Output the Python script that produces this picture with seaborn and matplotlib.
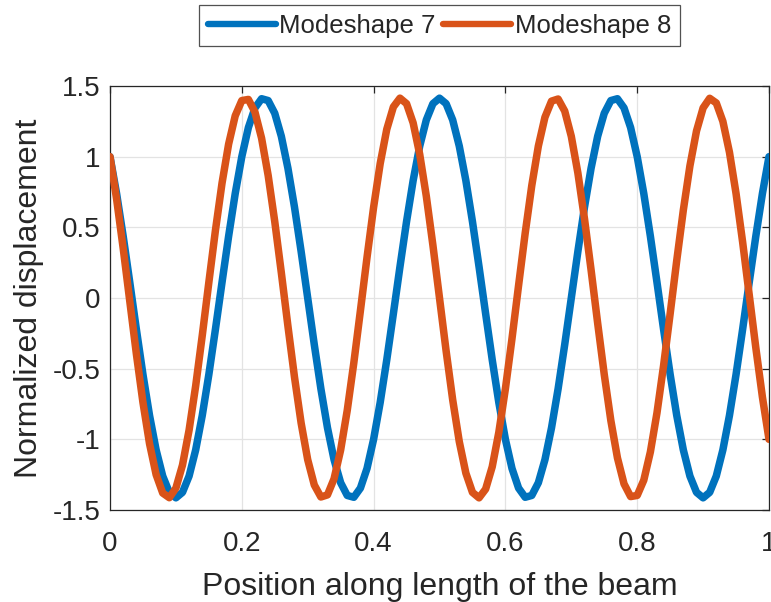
import numpy as np
import pandas as pd
import matplotlib
matplotlib.use("Agg")
import matplotlib.pyplot as plt
import seaborn as sns

# Position along the beam (normalized length)
position = [i / 100 for i in range(101)]

# Normalized displacement, mode 7
mode7 = [
    1.000, 0.739, 0.437, 0.111, -0.221, -0.541, -0.831, -1.075, -1.260, -1.375,
    -1.414, -1.375, -1.260, -1.075, -0.831, -0.541, -0.221, 0.111, 0.437, 0.739,
    1.000, 1.206, 1.345, 1.410, 1.397, 1.307, 1.144, 0.918, 0.642, 0.330,
    0.000, -0.330, -0.642, -0.918, -1.144, -1.307, -1.397, -1.410, -1.345, -1.206,
    -1.000, -0.739, -0.437, -0.111, 0.221, 0.541, 0.831, 1.075, 1.260, 1.375,
    1.414, 1.375, 1.260, 1.075, 0.831, 0.541, 0.221, -0.111, -0.437, -0.739,
    -1.000, -1.206, -1.345, -1.410, -1.397, -1.307, -1.144, -0.918, -0.642, -0.330,
    0.000, 0.330, 0.642, 0.918, 1.144, 1.307, 1.397, 1.410, 1.345, 1.206,
    1.000, 0.739, 0.437, 0.111, -0.221, -0.541, -0.831, -1.075, -1.260, -1.375,
    -1.414, -1.375, -1.260, -1.075, -0.831, -0.541, -0.221, 0.111, 0.437, 0.739,
    1.000,
]

# Normalized displacement, mode 8
mode8 = [
    1.000, 0.701, 0.352, -0.022, -0.395, -0.739, -1.031, -1.250, -1.380, -1.413,
    -1.345, -1.182, -0.935, -0.622, -0.265, 0.111, 0.479, 0.813, 1.089, 1.289,
    1.397, 1.405, 1.315, 1.131, 0.867, 0.541, 0.178, -0.199, -0.561, -0.884,
    -1.144, -1.323, -1.408, -1.393, -1.279, -1.075, -0.795, -0.458, -0.089, 0.287,
    0.642, 0.951, 1.194, 1.352, 1.414, 1.375, 1.239, 1.016, 0.720, 0.373,
    0.000, -0.373, -0.720, -1.016, -1.239, -1.375, -1.414, -1.352, -1.194, -0.951,
    -0.642, -0.287, 0.089, 0.458, 0.795, 1.075, 1.279, 1.393, 1.408, 1.323,
    1.144, 0.884, 0.561, 0.199, -0.178, -0.541, -0.867, -1.131, -1.315, -1.405,
    -1.397, -1.289, -1.089, -0.813, -0.479, -0.111, 0.265, 0.622, 0.935, 1.182,
    1.345, 1.413, 1.380, 1.250, 1.031, 0.739, 0.395, 0.022, -0.352, -0.701,
    -1.000,
]

series_names = ["Modeshape 7", "Modeshape 8"]
series_colors = ["#0072BD", "#D95319"]
x_ticks = [0, 0.2, 0.4, 0.6, 0.8, 1]
x_tick_labels = ["0", "0.2", "0.4", "0.6", "0.8", "1"]
y_ticks = [-1.5, -1, -0.5, 0, 0.5, 1, 1.5]
y_tick_labels = ["-1.5", "-1", "-0.5", "0", "0.5", "1", "1.5"]

df = pd.DataFrame({
    "x": position * 2,
    "y": mode7 + mode8,
    "mode": [series_names[0]] * len(position) + [series_names[1]] * len(position),
})

sns.set_theme(style="white")
plt.rcParams["font.family"] = ["Liberation Sans", "DejaVu Sans"]

fig = plt.figure(figsize=(7.71, 6.02), dpi=100)
ax = fig.add_axes([110 / 771, 1 - 510 / 602, 659 / 771, 424 / 602])

sns.lineplot(data=df, x="x", y="y", hue="mode", hue_order=series_names,
             palette=series_colors, linewidth=5.4, ax=ax, legend=False,
             sort=False, zorder=3, solid_joinstyle="round",
             solid_capstyle="round")

ax.set_xlim(0, 1)
ax.set_ylim(-1.5, 1.5)
ax.set_xticks(x_ticks)
ax.set_xticklabels(x_tick_labels)
ax.set_yticks(y_ticks)
ax.set_yticklabels(y_tick_labels)
ax.grid(True, color="#e3e3e3", linewidth=0.9, zorder=0)
ax.set_axisbelow(True)
for s in ax.spines.values():
    s.set_color("#262626")
    s.set_linewidth(0.9)
ax.tick_params(axis="both", direction="in", length=5, width=0.9,
               color="#262626", labelsize=20, labelcolor="#262626",
               top=True, right=True)
ax.tick_params(axis="x", pad=15)
ax.tick_params(axis="y", pad=7)
ax.set_xlabel("Position along length of the beam", fontsize=23,
              color="#262626", labelpad=11)
ax.set_ylabel("Normalized displacement", fontsize=23, color="#262626",
              labelpad=6)

handles = [plt.Line2D([], [], color=c, linewidth=4.6) for c in series_colors]
leg = fig.legend(handles, series_names, loc="center", ncol=2,
                 bbox_to_anchor=(439.5 / 771, 1 - 25.5 / 602), fontsize=18.5,
                 frameon=True, fancybox=False, handlelength=2.65,
                 handletextpad=0.12, columnspacing=0.3, borderpad=0.35,
                 borderaxespad=0)
leg.get_frame().set_edgecolor("#262626")
leg.get_frame().set_linewidth(0.9)

fig.savefig("out.png", dpi=100)
